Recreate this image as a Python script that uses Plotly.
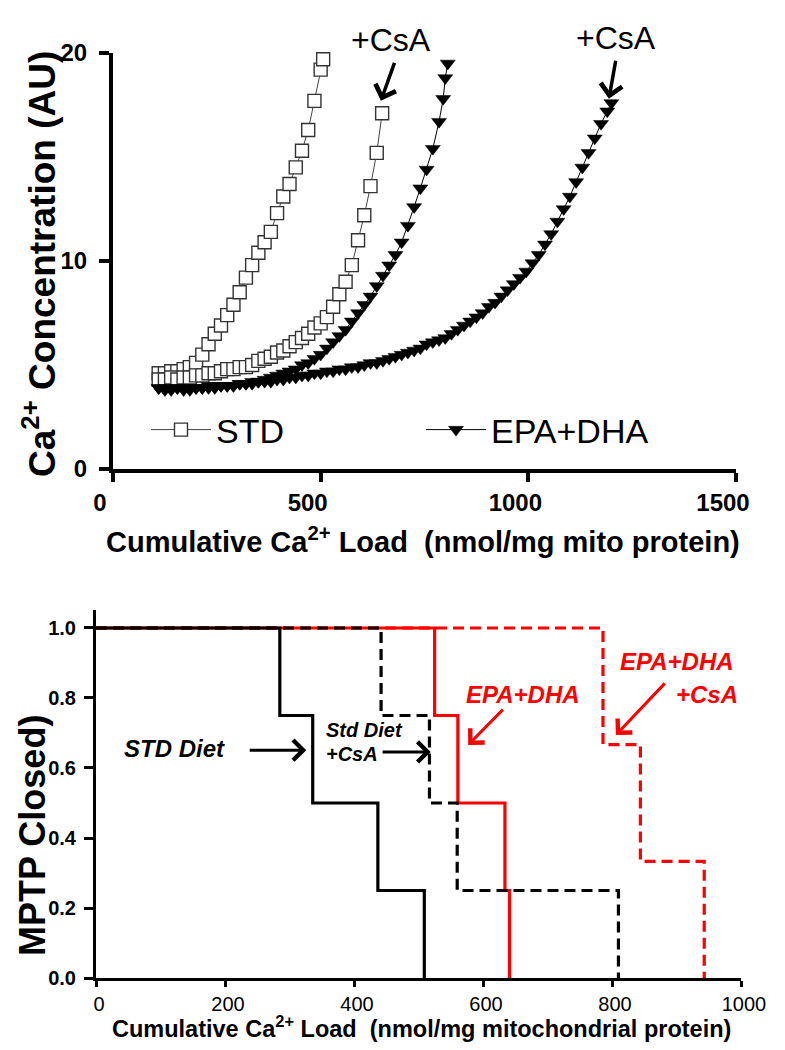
import plotly.graph_objects as go

# ---------------- Top panel data (Ca2+ concentration vs cumulative load) ----------------
std_x = [110, 125, 140, 155, 170, 185, 200, 215, 230, 245, 260, 275, 290, 305, 320, 335, 350,
         365, 380, 395, 410, 425, 440, 455, 470, 485, 500, 506]
std_y = [4.6, 4.6, 4.7, 4.7, 4.8, 4.9, 5.1, 5.5, 6.0, 6.5, 6.9, 7.4, 7.9, 8.5, 9.2, 9.8, 10.4,
         10.9, 11.4, 12.3, 13.1, 13.7, 14.5, 15.3, 16.3, 17.7, 19.2, 19.7]

std_csa_x = [110, 125, 140, 155, 170, 185, 200, 215, 230, 245, 260, 275, 290, 305, 320, 335, 350,
             365, 380, 395, 410, 425, 440, 455, 470, 485, 500, 515, 530, 545, 560, 575, 590, 605,
             620, 635, 648]
std_csa_y = [4.3, 4.3, 4.4, 4.3, 4.4, 4.4, 4.5, 4.5, 4.6, 4.6, 4.7, 4.8, 4.8, 4.9, 4.9, 5.0, 5.2,
             5.3, 5.4, 5.6, 5.7, 5.9, 6.1, 6.3, 6.5, 6.8, 7.0, 7.3, 7.8, 8.4, 9.0, 9.8, 11.0, 12.2,
             13.6, 15.2, 17.1]

epa_x = [110, 125, 140, 155, 170, 185, 200, 215, 230, 245, 260, 275, 290, 305, 320, 335, 350,
         365, 380, 395, 410, 425, 440, 455, 470, 485, 500, 515, 530, 545, 560, 575, 590, 605,
         620, 635, 650, 665, 680, 695, 710, 725, 740, 755, 770, 785, 795, 800, 806]
epa_y = [3.9, 3.9, 3.8, 3.9, 3.9, 3.8, 3.9, 3.9, 4.0, 3.9, 4.0, 4.0, 4.0, 4.1, 4.1, 4.2, 4.2,
         4.3, 4.4, 4.5, 4.6, 4.7, 4.8, 5.0, 5.1, 5.3, 5.5, 5.8, 6.1, 6.4, 6.7, 7.1, 7.5, 7.9,
         8.3, 8.8, 9.3, 9.8, 10.3, 10.9, 11.7, 12.6, 13.5, 14.4, 15.4, 16.7, 17.8, 18.8, 19.5]

epa_csa_x = [110, 125, 140, 155, 170, 185, 200, 215, 230, 245, 260, 275, 290, 305, 320, 335, 350,
             365, 380, 395, 410, 425, 440, 455, 470, 485, 500, 515, 530, 545, 560, 575, 590, 605,
             620, 635, 650, 665, 680, 695, 710, 725, 740, 755, 770, 785, 800, 815, 830, 845, 860,
             875, 890, 905, 920, 935, 950, 965, 980, 995, 1010, 1025, 1040, 1055, 1070, 1085,
             1100, 1115, 1130, 1145, 1160, 1175, 1190, 1200]
epa_csa_y = [3.9, 3.8, 3.9, 3.9, 3.8, 3.9, 3.9, 3.9, 3.9, 4.0, 4.0, 4.0, 4.0, 4.1, 4.1, 4.1, 4.2,
             4.2, 4.2, 4.3, 4.3, 4.4, 4.4, 4.5, 4.5, 4.6, 4.6, 4.7, 4.7, 4.8, 4.8, 4.9, 4.9, 5.0,
             5.1, 5.1, 5.2, 5.3, 5.4, 5.5, 5.6, 5.7, 5.8, 6.0, 6.1, 6.2, 6.3, 6.5, 6.7, 6.9, 7.1,
             7.3, 7.5, 7.8, 8.0, 8.3, 8.6, 8.9, 9.2, 9.5, 9.9, 10.3, 10.8, 11.3, 11.9, 12.5,
             13.1, 13.8, 14.5, 15.2, 15.9, 16.6, 17.2, 17.6]

top_xticks = [0, 500, 1000, 1500]
top_yticks = [0, 10, 20]

# ---------------- Bottom panel data (fraction of MPTP closed) ----------------
std_diet_x = [0, 285, 336, 437, 509]
std_diet_y = [1.0, 0.75, 0.5, 0.25, 0.0]

std_diet_csa_x = [0, 442, 517, 560, 810]
std_diet_csa_y = [1.0, 0.75, 0.5, 0.25, 0.0]

epa_diet_x = [0, 525, 561, 634, 641]
epa_diet_y = [1.0, 0.75, 0.5, 0.25, 0.0]

epa_diet_csa_x = [0, 786, 844, 943]
epa_diet_csa_y = [1.0, 0.667, 0.333, 0.0]

bot_xticks = [0, 200, 400, 600, 800, 1000]
bot_yticks = [0.0, 0.2, 0.4, 0.6, 0.8, 1.0]
bot_yticktext = ["0.0", "0.2", "0.4", "0.6", "0.8", "1.0"]

FONT = "Liberation Sans, Arial, sans-serif"
OFF = 8                      # default page body margin
W, H = 785 - 2 * OFF, 1050 - 2 * OFF

fig = go.Figure()

sq = dict(symbol="square", size=13, color="white", line=dict(color="#333333", width=1.4))
tri = dict(symbol="triangle-down", size=13, color="black", line=dict(color="black", width=0.5))

fig.add_trace(go.Scatter(x=std_x, y=std_y, mode="lines+markers", name="STD",
                         marker=sq, line=dict(color="#444444", width=1),
                         cliponaxis=False, xaxis="x", yaxis="y", showlegend=True))
fig.add_trace(go.Scatter(x=std_csa_x, y=std_csa_y, mode="lines+markers", name="STD+CsA",
                         marker=sq, line=dict(color="#444444", width=1),
                         cliponaxis=False, xaxis="x", yaxis="y", showlegend=False))
fig.add_trace(go.Scatter(x=epa_x, y=epa_y, mode="lines+markers", name="EPA+DHA",
                         marker=tri, line=dict(color="black", width=1),
                         cliponaxis=False, xaxis="x", yaxis="y", showlegend=True))
fig.add_trace(go.Scatter(x=epa_csa_x, y=epa_csa_y, mode="lines+markers", name="EPA+DHA+CsA",
                         marker=tri, line=dict(color="black", width=1),
                         cliponaxis=False, xaxis="x", yaxis="y", showlegend=False))

fig.add_trace(go.Scatter(x=epa_diet_csa_x, y=epa_diet_csa_y, mode="lines", line_shape="hv",
                         line=dict(color="#ff0000", width=3.2, dash="11px,6px"),
                         xaxis="x2", yaxis="y2", showlegend=False, cliponaxis=False))
fig.add_trace(go.Scatter(x=epa_diet_x, y=epa_diet_y, mode="lines", line_shape="hv",
                         line=dict(color="#ff0000", width=3.2),
                         xaxis="x2", yaxis="y2", showlegend=False, cliponaxis=False))
fig.add_trace(go.Scatter(x=std_diet_csa_x, y=std_diet_csa_y, mode="lines", line_shape="hv",
                         line=dict(color="black", width=3.2, dash="11px,6px"),
                         xaxis="x2", yaxis="y2", showlegend=False, cliponaxis=False))
fig.add_trace(go.Scatter(x=std_diet_x, y=std_diet_y, mode="lines", line_shape="hv",
                         line=dict(color="black", width=3.2),
                         xaxis="x2", yaxis="y2", showlegend=False, cliponaxis=False))


def px_x(p):
    return (p - OFF) / W


def px_y(p):
    return 1 - (p - OFF) / H


axis_common = dict(showgrid=False, zeroline=False, showline=True, linecolor="black",
                   ticks="outside", tickcolor="black", mirror=False, automargin=False)

fig.update_layout(
    template="none",
    width=W, height=H,
    margin=dict(l=0, r=0, t=0, b=0, pad=0, autoexpand=False),
    paper_bgcolor="white", plot_bgcolor="white",
    font=dict(family=FONT, color="black"),
    xaxis=dict(domain=[px_x(113), px_x(736)], range=[0, 1500], tickvals=top_xticks,
               anchor="y", linewidth=4, tickwidth=4, ticklen=9, ticklabelstandoff=0,
               ticklabelshift=-13,
               tickfont=dict(size=24, family=FONT, weight="bold"), **axis_common),
    yaxis=dict(domain=[px_y(469), px_y(53)], range=[0, 20], tickvals=top_yticks,
               anchor="x", linewidth=4, tickwidth=4, ticklen=10, ticklabelstandoff=7,
               tickfont=dict(size=24, family=FONT, weight="bold"), **axis_common),
    xaxis2=dict(domain=[px_x(96), px_x(741)], range=[0, 1000], tickvals=bot_xticks,
                anchor="y2", linewidth=3, tickwidth=3, ticklen=6, ticklabelstandoff=0,
                ticklabelshift=3,
                tickfont=dict(size=20, family=FONT), **axis_common),
    yaxis2=dict(domain=[px_y(978), px_y(610)], range=[0, 1.0514], tickvals=bot_yticks,
                ticktext=bot_yticktext, anchor="x2", linewidth=3, tickwidth=3, ticklen=9,
                ticklabelstandoff=4, tickfont=dict(size=20, family=FONT, weight="bold"),
                **axis_common),
    legend=dict(orientation="h", x=px_x(146), y=px_y(430), xanchor="left", yanchor="middle",
                font=dict(size=34, family=FONT), bgcolor="rgba(0,0,0,0)", itemwidth=60,
                entrywidth=200, traceorder="normal", borderwidth=0),
    showlegend=True,
)

ann = []


def ptext(text, x, y, size, angle=0, color="black", weight="bold"):
    ann.append(dict(text=text, x=px_x(x), y=px_y(y), xref="paper", yref="paper",
                    xanchor="center", yanchor="middle", showarrow=False, textangle=angle,
                    font=dict(size=size, family=FONT, weight=weight, color=color)))


# axis titles
ptext("Ca<sup>2+</sup> Concentration (AU)", 40, 264, 37, angle=-90)
ptext("Cumulative Ca<sup>2+</sup> Load  (nmol/mg mito protein)", 423, 540, 29)
ptext("MPTP Closed)", 32, 836, 36, angle=-90)
ptext("Cumulative Ca<sup>2+</sup> Load  (nmol/mg mitochondrial protein)", 421, 1027, 23.5)

# top +CsA labels
ptext("+CsA", 391, 40, 32, weight="normal")
ptext("+CsA", 616, 38, 32, weight="normal")


def arrow(x, y, ax, ay, xr, yr, color, width, size):
    ann.append(dict(text="", x=x, y=y, ax=ax, ay=ay, xref=xr, yref=yr, axref=xr, ayref=yr,
                    showarrow=True, arrowhead=4, arrowwidth=width, arrowsize=size,
                    arrowcolor=color, standoff=0, startstandoff=0))


arrow(645, 17.7, 679, 19.6, "x", "y", "black", 3.5, 1.2)
arrow(1194, 17.8, 1211, 19.7, "x", "y", "black", 3.5, 1.2)


def dtext(text, x, y, size, color="black", xanchor="center"):
    ann.append(dict(text=text, x=x, y=y, xref="x2", yref="y2", xanchor=xanchor,
                    yanchor="middle", showarrow=False,
                    font=dict(size=size, family=FONT, color=color)))


dtext("<b><i>STD Diet</i></b>", 122, 0.657, 24)
arrow(326, 0.651, 236, 0.651, "x2", "y2", "black", 3, 1.3)
dtext("<b><i>Std Diet</i></b>", 353, 0.708, 20, xanchor="left")
dtext("<b><i>+CsA</i></b>", 353, 0.640, 20, xanchor="left")
arrow(519, 0.646, 442, 0.646, "x2", "y2", "black", 3, 1.3)
dtext("<b><i>EPA+DHA</i></b>", 662, 0.809, 24, color="#ff0000")
arrow(577, 0.666, 633, 0.771, "x2", "y2", "#ff0000", 3, 1.3)
dtext("<b><i>EPA+DHA</i></b>", 901, 0.903, 24, color="#ff0000")
dtext("<b><i>+CsA</i></b>", 947, 0.811, 24, color="#ff0000")
arrow(806, 0.694, 884, 0.846, "x2", "y2", "#ff0000", 3, 1.3)

fig.update_layout(annotations=ann)

fig.write_html("out.html")
